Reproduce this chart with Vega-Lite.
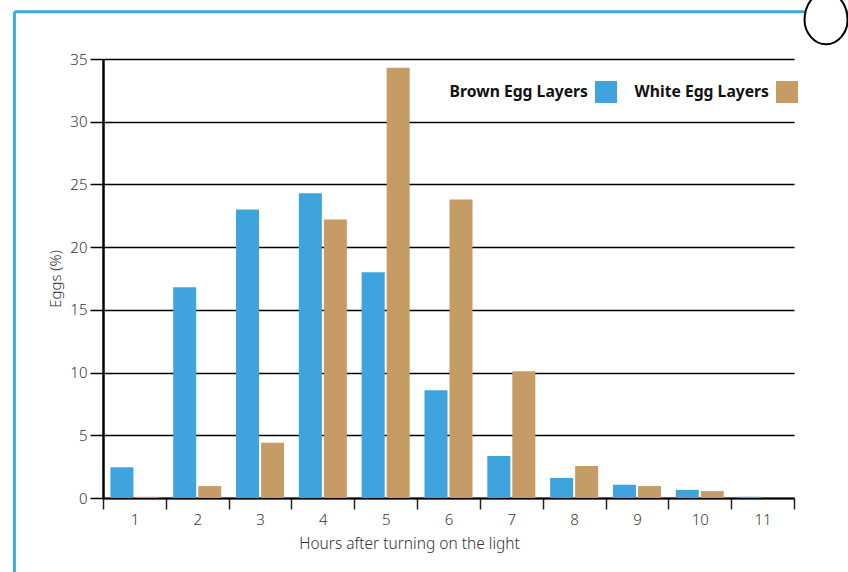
{
"$schema":"https://vega.github.io/schema/vega-lite/v6.json",
"width":691,"height":439,
"autosize":"none",
"padding":{"left":103,"top":59,"right":54,"bottom":74},
"background":"white",
"config":{"view":{"stroke":null},"font":"Noto Sans"},
"resolve":{"scale":{"x":"independent","y":"independent"}},
"layer":[
{"data":{"values":[
{"h":"1","g":"Brown Egg Layers","v":2.45},{"h":"2","g":"Brown Egg Layers","v":16.8},{"h":"3","g":"Brown Egg Layers","v":23.0},{"h":"4","g":"Brown Egg Layers","v":24.3},{"h":"5","g":"Brown Egg Layers","v":18.0},{"h":"6","g":"Brown Egg Layers","v":8.6},{"h":"7","g":"Brown Egg Layers","v":3.35},{"h":"8","g":"Brown Egg Layers","v":1.6},{"h":"9","g":"Brown Egg Layers","v":1.05},{"h":"10","g":"Brown Egg Layers","v":0.65},{"h":"11","g":"Brown Egg Layers","v":0.1},
{"h":"1","g":"White Egg Layers","v":0.1},{"h":"2","g":"White Egg Layers","v":0.95},{"h":"3","g":"White Egg Layers","v":4.4},{"h":"4","g":"White Egg Layers","v":22.2},{"h":"5","g":"White Egg Layers","v":34.3},{"h":"6","g":"White Egg Layers","v":23.8},{"h":"7","g":"White Egg Layers","v":10.1},{"h":"8","g":"White Egg Layers","v":2.55},{"h":"9","g":"White Egg Layers","v":0.95},{"h":"10","g":"White Egg Layers","v":0.55}
]},
"mark":{"type":"bar"},
"encoding":{
"x":{"field":"h","type":"ordinal","sort":["1","2","3","4","5","6","7","8","9","10","11"],
"scale":{"paddingInner":0,"paddingOuter":0},
"axis":{"title":"Hours after turning on the light","labelAngle":0,"tickBand":"extent","tickColor":"#222222","tickWidth":1.5,"tickSize":11,"domainColor":"black","domainWidth":2,"labelFontSize":15,"labelFontWeight":300,"labelColor":"#333333","labelPadding":3,"titleFontSize":15.5,"titleFontWeight":300,"titleColor":"#333333","titlePadding":9,"titleX":306}},
"xOffset":{"field":"g","type":"nominal","scale":{"paddingInner":0.08,"paddingOuter":0.296}},
"y":{"field":"v","type":"quantitative","scale":{"domain":[0,35]},
"axis":{"title":"Eggs (%)","values":[0,5,10,15,20,25,30,35],"grid":true,"gridColor":"black","gridWidth":1.5,"tickColor":"black","tickWidth":1.5,"tickSize":13,"domainColor":"black","domainWidth":2.5,"labelFontSize":15,"labelFontWeight":300,"labelColor":"#333333","labelPadding":3,"titleFontSize":15,"titleFontWeight":300,"titleColor":"#333333","titlePadding":6}},
"color":{"field":"g","type":"nominal","scale":{"domain":["Brown Egg Layers","White Egg Layers"],"range":["#3fa3de","#c69c66"]},
"legend":{"title":null,"orient":"none","legendX":492,"legendY":22,"direction":"horizontal","symbolType":"square","symbolSize":484,"symbolStrokeWidth":0,"symbolOpacity":1,"labelAlign":"right","labelOffset":-29,"labelFontSize":15.7,"labelFontWeight":"bold","labelColor":"#111111","labelLimit":200,"columnPadding":17,"columns":2}}
}},
{"data":{"values":[
{"fx":-1.41,"fx2":-1.41,"fy":38.77,"fy2":-6},
{"fx":-1.41,"fx2":12,"fy":38.77,"fy2":38.77}
]},
"mark":{"type":"rule","color":"#3fa9e0","strokeWidth":3},
"encoding":{
"x":{"field":"fx","type":"quantitative","scale":{"domain":[0,11]},"axis":null},
"x2":{"field":"fx2"},
"y":{"field":"fy","type":"quantitative","scale":{"domain":[0,35]},"axis":null},
"y2":{"field":"fy2"}
}},
{"data":{"values":[{"ex":11.51,"ey":38.08}]},
"mark":{"type":"point","filled":true,"fill":"white","fillOpacity":1,"stroke":"black","strokeOpacity":1,"strokeWidth":2,"size":1600,"shape":"M0,1.2 C0.6,1.2 1.075,0.6 1.075,0 C1.075,-0.8 0.6,-1.4 0,-1.4 C-0.6,-1.4 -1.075,-0.8 -1.075,0 C-1.075,0.6 -0.6,1.2 0,1.2 Z"},
"encoding":{
"x":{"field":"ex","type":"quantitative","scale":{"domain":[0,11]},"axis":null},
"y":{"field":"ey","type":"quantitative","scale":{"domain":[0,35]},"axis":null}
}}
]
}
